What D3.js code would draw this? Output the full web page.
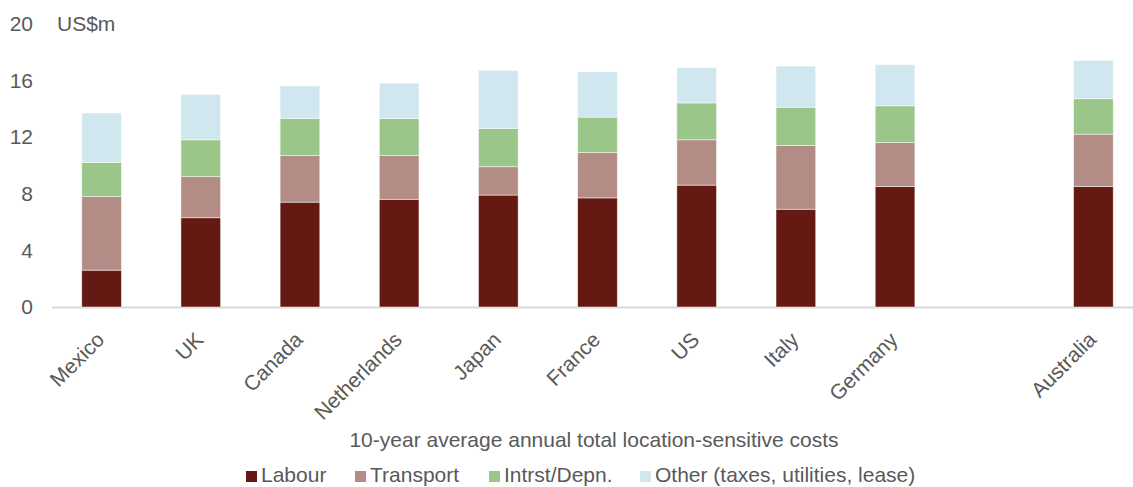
<!DOCTYPE html>
<html>
<head>
<meta charset="utf-8">
<script src="https://cdn.jsdelivr.net/npm/d3@7"></script>
<style>
  body { margin: 0; background: #fff; }
  svg { display: block; font-family: "Liberation Sans", Arial, sans-serif; }
</style>
</head>
<body>
<svg id="chart" width="1133" height="487"></svg>
<script>
// Countries (an empty slot separates Germany and Australia)
const countries = ["Mexico", "UK", "Canada", "Netherlands", "Japan", "France", "US", "Italy", "Germany", "", "Australia"];

// Cost components, US$m (10-year average annual)
const labour    = [2.6, 6.3, 7.4, 7.6, 7.9, 7.7, 8.6, 6.9, 8.5, null, 8.5];
const transport = [5.2, 2.9, 3.3, 3.1, 2.0, 3.2, 3.2, 4.5, 3.1, null, 3.7];
const intrst    = [2.4, 2.6, 2.6, 2.6, 2.7, 2.5, 2.6, 2.7, 2.6, null, 2.5];
const other     = [3.5, 3.2, 2.3, 2.5, 4.1, 3.2, 2.5, 2.9, 2.9, null, 2.7];

const seriesNames = ["Labour", "Transport", "Intrst/Depn.", "Other (taxes, utilities, lease)"];
const seriesColors = ["#641a13", "#b38c86", "#9bc68a", "#d0e7ef"];
const yTicks = [0, 4, 8, 12, 16, 20];

const FONT = "21px";
const svg = d3.select("#chart");
const margin = { left: 52, top: 23.6, bottom: 307 };
const plotRight = 1143;

const x = d3.scaleBand().domain(countries.map((c, i) => i)).range([margin.left, plotRight]).paddingInner(0.6).paddingOuter(0.3);
const y = d3.scaleLinear().domain([0, 20]).range([margin.bottom, margin.top]);

// Stack the components per country
const rows = countries.map((c, i) => ({
  idx: i,
  Labour: labour[i] || 0,
  Transport: transport[i] || 0,
  Intrst: intrst[i] || 0,
  Other: other[i] || 0
}));
const keys = ["Labour", "Transport", "Intrst", "Other"];
const stacked = d3.stack().keys(keys)(rows);

// Baseline
svg.append("line")
  .attr("x1", margin.left).attr("x2", plotRight)
  .attr("y1", y(0) + 0.5).attr("y2", y(0) + 0.5)
  .attr("stroke", "#d9d9d9").attr("stroke-width", 2);

// Bars
svg.append("g").selectAll("g")
  .data(stacked)
  .join("g")
  .attr("fill", (d, i) => seriesColors[i])
  .selectAll("rect")
  .data(d => d.filter(p => countries[p.data.idx] !== ""))
  .join("rect")
  .attr("x", d => x(d.data.idx))
  .attr("width", x.bandwidth())
  .attr("y", d => y(d[1]))
  .attr("height", d => y(d[0]) - y(d[1]))
  .attr("stroke", "#ffffff")
  .attr("stroke-opacity", 0.6)
  .attr("stroke-width", 0.8);

// Y axis labels
const yAxis = d3.axisLeft(y).tickValues(yTicks).tickSize(0).tickPadding(0);
const yg = svg.append("g").attr("transform", "translate(33,0)").call(yAxis);
yg.select(".domain").remove();
yg.selectAll("text")
  .attr("fill", "#595959")
  .style("font-size", FONT)
  .style("font-family", "'Liberation Sans', Arial, sans-serif");

// Unit label
svg.append("text")
  .attr("x", 57).attr("y", 30.5)
  .attr("fill", "#595959")
  .style("font-size", FONT)
  .text("US$m");

// X axis labels, rotated
const xAxis = d3.axisBottom(x).tickFormat(i => countries[i]).tickSize(0).tickPadding(0);
const xg = svg.append("g").attr("transform", `translate(0,${y(0)})`).call(xAxis);
xg.select(".domain").remove();
xg.selectAll("text")
  .attr("fill", "#595959")
  .style("font-size", FONT)
  .style("font-family", "'Liberation Sans', Arial, sans-serif")
  .attr("text-anchor", "end")
  .attr("dy", "0")
  .attr("transform", "translate(4,34) rotate(-45)");

// Axis title
svg.append("text")
  .attr("x", 594).attr("y", 447)
  .attr("text-anchor", "middle")
  .attr("fill", "#595959")
  .style("font-size", FONT)
  .text("10-year average annual total location-sensitive costs");

// Legend
const legendX = [246, 355, 489, 640];
const leg = svg.append("g").selectAll("g")
  .data(seriesNames)
  .join("g")
  .attr("transform", (d, i) => `translate(${legendX[i]},0)`);
leg.append("rect")
  .attr("x", 0).attr("y", 471)
  .attr("width", 11).attr("height", 11)
  .attr("fill", (d, i) => seriesColors[i]);
leg.append("text")
  .attr("x", 15).attr("y", 482)
  .attr("fill", "#595959")
  .style("font-size", FONT)
  .text(d => d);
</script>
</body>
</html>
